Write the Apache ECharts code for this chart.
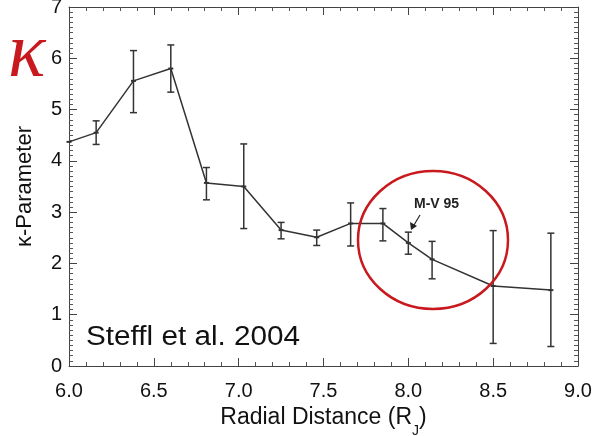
<!DOCTYPE html>
<html>
<head>
<meta charset="utf-8">
<script src="https://cdn.jsdelivr.net/npm/echarts@6/dist/echarts.min.js"></script>
<style>
  html, body { margin: 0; padding: 0; background: #fff; }
  #chart { width: 596px; height: 436px; }
</style>
</head>
<body>
<div id="chart"></div>
<script>
// Radial distance (R_J) of each kappa measurement
const radialDistance = [6.00, 6.16, 6.38, 6.60, 6.81, 7.03, 7.25, 7.46, 7.66, 7.85, 8.00, 8.14, 8.50, 8.84];
// Fitted kappa parameter
const kappaValue = [4.37, 4.55, 5.56, 5.80, 3.57, 3.50, 2.65, 2.51, 2.78, 2.78, 2.40, 2.08, 1.56, 1.48];
// Lower / upper ends of the uncertainty bars (null where no bar is drawn)
const kappaLow  = [null, 4.32, 4.94, 5.34, 3.24, 2.68, 2.48, 2.35, 2.34, 2.44, 2.18, 1.70, 0.44, 0.38];
const kappaHigh = [null, 4.78, 6.15, 6.26, 3.87, 4.33, 2.80, 2.65, 3.18, 3.07, 2.61, 2.43, 2.64, 2.59];

const xTicks = { min: 6.0, max: 9.0, interval: 0.5 };
const yTicks = { min: 0, max: 7, interval: 1 };

const FONT = '"Liberation Sans", Arial, sans-serif';
const INK = '#111';
const FRAME = '#444';
const RED = '#c8191e';

const lineData = radialDistance.map((x, i) => [x, kappaValue[i]]);
const errData = radialDistance
  .map((x, i) => [x, kappaLow[i], kappaHigh[i]])
  .filter(d => d[1] !== null);

function axisBase(showLabel, minorSplits) {
  return {
    axisLine: { show: true, onZero: false, lineStyle: { color: FRAME, width: 1 } },
    axisTick: { show: true, inside: true, length: 8, lineStyle: { color: FRAME, width: 1 } },
    minorTick: { show: true, splitNumber: minorSplits, length: 4, lineStyle: { color: '#555', width: 1 } },
    splitLine: { show: false },
    minorSplitLine: { show: false },
    axisLabel: { show: showLabel, color: INK, fontFamily: FONT, fontSize: 20 }
  };
}

const chart = echarts.init(document.getElementById('chart'), null, { renderer: 'canvas' });

chart.setOption({
  animation: false,
  backgroundColor: '#fff',
  grid: { left: 69, right: 18, top: 7, bottom: 70, containLabel: false, outerBoundsMode: 'none' },
  xAxis: [
    Object.assign(axisBase(true, 5), {
      type: 'value', position: 'bottom',
      min: xTicks.min, max: xTicks.max, interval: xTicks.interval,
      axisLabel: { color: INK, fontFamily: FONT, fontSize: 20, margin: 15,
                   formatter: v => v.toFixed(1) },
      name: '{n|Radial Distance (R}{s|J}{n|)}',
      nameLocation: 'middle', nameGap: 40,
      nameTextStyle: {
        rich: {
          n: { fontFamily: FONT, fontSize: 23, color: INK },
          s: { fontFamily: FONT, fontSize: 14, color: INK, verticalAlign: 'bottom', padding: [0, 0, -9, 0] }
        }
      }
    }),
    Object.assign(axisBase(false, 5), {
      type: 'value', position: 'top',
      min: xTicks.min, max: xTicks.max, interval: xTicks.interval
    })
  ],
  yAxis: [
    Object.assign(axisBase(true, 10), {
      type: 'value', position: 'left',
      min: yTicks.min, max: yTicks.max, interval: yTicks.interval,
      axisLabel: { color: INK, fontFamily: FONT, fontSize: 20, margin: 7 },
      name: 'κ-Parameter',
      nameLocation: 'middle', nameGap: 33, nameRotate: 90,
      nameTextStyle: { fontFamily: FONT, fontSize: 22, color: INK }
    }),
    Object.assign(axisBase(false, 10), {
      type: 'value', position: 'right',
      min: yTicks.min, max: yTicks.max, interval: yTicks.interval
    })
  ],
  series: [
    {
      type: 'line',
      data: lineData,
      symbol: 'rect',
      symbolSize: [5, 2],
      itemStyle: { color: '#333' },
      lineStyle: { color: '#333', width: 1.5 },
      z: 3
    },
    {
      type: 'custom',
      data: errData,
      encode: { x: 0, y: [1, 2] },
      renderItem(params, api) {
        const x = api.value(0);
        const lo = api.coord([x, api.value(1)]);
        const hi = api.coord([x, api.value(2)]);
        const cap = 3.5;
        const style = { stroke: '#333', lineWidth: 1.5 };
        return {
          type: 'group',
          children: [
            { type: 'line', shape: { x1: lo[0], y1: lo[1], x2: hi[0], y2: hi[1] }, style },
            { type: 'line', shape: { x1: lo[0] - cap, y1: lo[1], x2: lo[0] + cap, y2: lo[1] }, style },
            { type: 'line', shape: { x1: hi[0] - cap, y1: hi[1], x2: hi[0] + cap, y2: hi[1] }, style }
          ]
        };
      },
      z: 2
    }
  ],
  graphic: [
    // large red kappa symbol beside the axis
    {
      type: 'text', left: 8, top: 16,
      style: { text: 'κ', fill: RED, font: 'italic 78px "Liberation Serif", "Times New Roman", serif' }
    },
    // citation
    {
      type: 'text', x: 86, y: 324, scaleX: 1.1,
      style: { text: 'Steffl et al. 2004', fill: '#111', font: '27px ' + FONT }
    },
    // highlighted region around the M-V 95 point
    {
      type: 'ellipse',
      shape: { cx: 433, cy: 240, rx: 75, ry: 69 },
      style: { fill: 'none', stroke: RED, lineWidth: 2.5 },
      z: 10
    },
    // M-V 95 label and pointer
    {
      type: 'text', left: 414, top: 197,
      style: { text: 'M-V 95', fill: '#222', font: 'bold 14px ' + FONT },
      z: 11
    },
    {
      type: 'line',
      shape: { x1: 420, y1: 215, x2: 414, y2: 225 },
      style: { stroke: '#222', lineWidth: 1.2 },
      z: 11
    },
    {
      type: 'polygon',
      shape: { points: [[411, 230], [410, 222], [417, 226]] },
      style: { fill: '#222' },
      z: 11
    }
  ]
});
</script>
</body>
</html>
